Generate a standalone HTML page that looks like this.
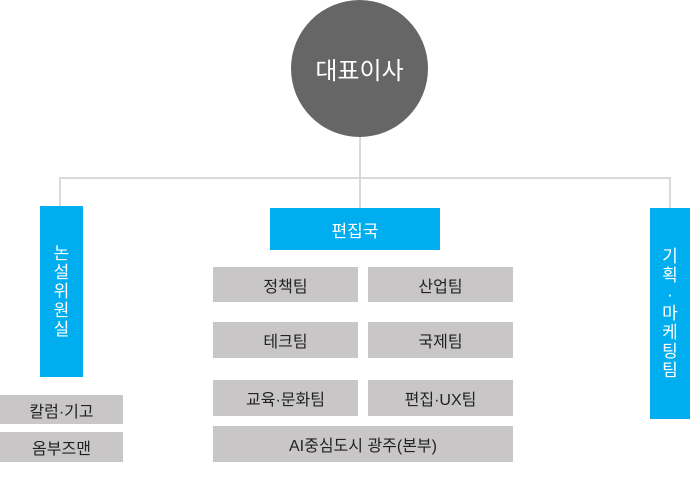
<!DOCTYPE html>
<html><head><meta charset="utf-8"><style>
body{margin:0;width:690px;height:483px;background:#fff;position:relative;overflow:hidden;font-family:"Liberation Sans","Noto Sans CJK KR",sans-serif}
div{position:absolute;box-sizing:border-box}
.l{background:#d9d9d9}
.b{background:#00aeef;color:#fff;display:flex;align-items:center;justify-content:center;font-size:17px}
.g{background:#c8c6c7;color:#222;display:flex;align-items:center;justify-content:center;font-size:16px}
.v{flex-direction:column;line-height:19px;text-align:center}
</style></head><body>
<div class="l" style="left:359px;top:130px;width:2px;height:78px"></div>
<div class="l" style="left:59px;top:177px;width:612px;height:2px"></div>
<div class="l" style="left:59px;top:177px;width:2px;height:30px"></div>
<div class="l" style="left:669px;top:177px;width:2px;height:32px"></div>
<div style="left:291px;top:0;width:137px;height:137px;border-radius:50%;background:#666;color:#fff;font-size:24px;display:flex;align-items:center;justify-content:center">대표이사</div>
<div class="b v" style="left:40px;top:206px;width:43px;height:171px">논<br>설<br>위<br>원<br>실</div>
<div class="g" style="left:0;top:395px;width:123px;height:29px">칼럼·기고</div>
<div class="g" style="left:0;top:432px;width:123px;height:30px">옴부즈맨</div>
<div class="b" style="left:270px;top:208px;width:170px;height:42px">편집국</div>
<div class="g" style="left:213px;top:267px;width:145px;height:35px">정책팀</div>
<div class="g" style="left:368px;top:267px;width:145px;height:35px">산업팀</div>
<div class="g" style="left:213px;top:322px;width:145px;height:36px">테크팀</div>
<div class="g" style="left:368px;top:322px;width:145px;height:36px">국제팀</div>
<div class="g" style="left:213px;top:380px;width:145px;height:36px">교육·문화팀</div>
<div class="g" style="left:368px;top:380px;width:145px;height:36px">편집·UX팀</div>
<div class="g" style="left:213px;top:426px;width:300px;height:36px">AI중심도시 광주(본부)</div>
<div class="b v" style="left:650px;top:208px;width:40px;height:211px">기<br>획<br>·<br>마<br>케<br>팅<br>팀</div>
</body></html>
